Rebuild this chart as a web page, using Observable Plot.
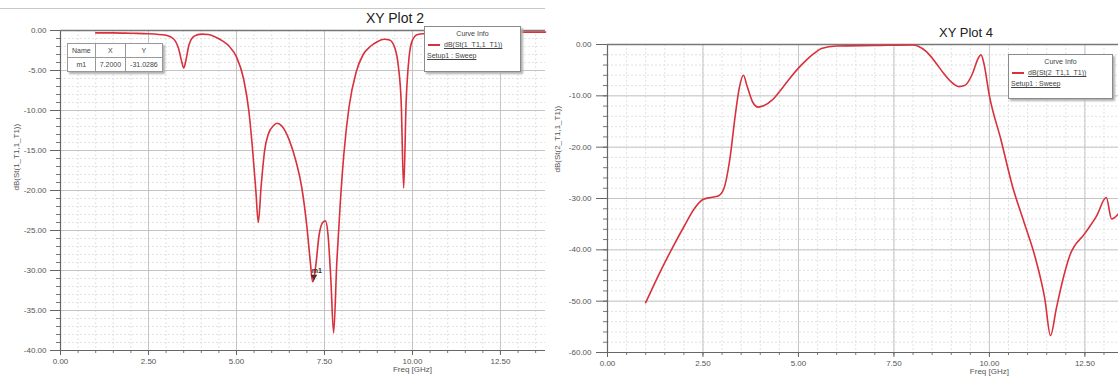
<!DOCTYPE html>
<html>
<head>
<meta charset="utf-8">
<script src="https://cdn.jsdelivr.net/npm/d3@7"></script>
<script src="https://cdn.jsdelivr.net/npm/@observablehq/plot@0.6"></script>
<style>
  html, body { margin: 0; padding: 0; background: #fff; }
  body { width: 1118px; height: 381px; position: relative; overflow: hidden; font-family: "Liberation Sans", Arial, sans-serif; }
  .panel { position: absolute; top: 0; height: 381px; }
  #left { left: 0; width: 545px; }
  #right { left: 553px; width: 565px; }
  #winline { position: absolute; left: 0; top: 8px; width: 545px; height: 0; border-top: 1.5px solid #c8c8c8; }
  .title { position: absolute; color: #222; white-space: nowrap; transform: translateX(-50%); }
  .legend { position: absolute; background: #fff; border: 1px solid #8a8a8a; box-shadow: 2px 2px 2px #b0b0b0; font-size: 7px; color: #444; }
  .legend .hd { text-align: center; margin-top: 3px; }
  .legend .row { display: flex; align-items: center; margin-top: 4px; padding-left: 3px; white-space: nowrap; }
  .legend .sw { width: 12px; height: 0; border-top: 2px solid #d8303c; margin-right: 4px; }
  .legend .u { text-decoration: underline; }
  .legend .setup { padding-left: 2px; margin-top: 4px; text-decoration: underline; white-space: nowrap; }
  #mtable { position: absolute; left: 67px; top: 43px; border-collapse: collapse; background: #fff; font-size: 7px; color: #444; box-shadow: 2px 2px 2px #b0b0b0; }
  #mtable td { border: 1px solid #999; padding: 3px 4px; text-align: center; }
</style>
</head>
<body>
<div id="winline"></div>
<div id="left" class="panel"></div>
<div id="right" class="panel"></div>
<div class="title" style="left:395px; top:10px; font-size:14px;">XY Plot 2</div>
<div class="title" style="left:966px; top:25px; font-size:13px;">XY Plot 4</div>
<script>
// ---------- data ----------
const xTicks = [0, 2.5, 5, 7.5, 10, 12.5];
const s11YTicks = [0, -5, -10, -15, -20, -25, -30, -35, -40];
const s21YTicks = [0, -10, -20, -30, -40, -50, -60];

const s11Freq = [1.0, 1.5, 2.0, 2.5, 3.0, 3.2, 3.35, 3.45, 3.5, 3.55, 3.65, 3.8, 4.0, 4.2, 4.4, 4.6, 4.8, 5.0, 5.2, 5.35, 5.45, 5.55, 5.62, 5.7, 5.8, 5.9, 6.05, 6.15, 6.3, 6.5, 6.7, 6.85, 7.0, 7.1, 7.16, 7.2, 7.25, 7.35, 7.45, 7.53, 7.6, 7.68, 7.76, 7.85, 7.95, 8.05, 8.2, 8.4, 8.6, 8.8, 9.0, 9.2, 9.35, 9.5, 9.6, 9.68, 9.75, 9.82, 9.9, 10.0, 10.15, 10.5, 11.0, 12.0, 13.0, 13.78];
const s11dB   = [-0.3, -0.3, -0.35, -0.4, -0.6, -1.0, -2.2, -4.0, -4.7, -4.0, -1.8, -0.7, -0.45, -0.5, -0.8, -1.3, -2.0, -3.3, -6.0, -10.0, -14.5, -20.0, -24.0, -19.5, -15.0, -13.0, -11.9, -11.6, -12.0, -13.7, -16.5, -19.5, -24.5, -29.0, -31.4, -31.03, -29.5, -25.5, -24.0, -23.8, -25.5, -31.0, -37.8, -29.0, -21.5, -15.5, -9.5, -5.2, -3.0, -2.0, -1.4, -1.1, -1.2, -2.2, -4.5, -9.0, -19.7, -9.0, -3.5, -1.2, -0.5, -0.35, -0.3, -0.25, -0.2, -0.2];

const s21Freq = [1.0, 1.3, 1.7, 2.0, 2.3, 2.5, 2.7, 2.9, 3.05, 3.2, 3.35, 3.45, 3.56, 3.65, 3.8, 3.95, 4.1, 4.3, 4.5, 4.75, 5.0, 5.2, 5.4, 5.6, 6.0, 7.0, 8.0, 8.15, 8.35, 8.6, 8.8, 9.0, 9.2, 9.35, 9.55, 9.7, 9.78, 9.85, 10.0, 10.3, 10.6, 10.9, 11.2, 11.45, 11.6, 11.75, 11.9, 12.1, 12.5, 12.8, 13.06, 13.2, 13.38];
const s21dB   = [-50.3, -45.5, -39.6, -35.5, -31.7, -30.2, -29.8, -29.5, -28.0, -22.5, -13.5, -8.5, -6.0, -8.0, -11.2, -12.2, -11.9, -10.9, -9.2, -6.8, -4.6, -3.1, -1.8, -0.8, -0.3, -0.2, -0.1, -0.4, -1.4, -3.6, -5.6, -7.3, -8.2, -8.0, -5.8, -2.8, -2.0, -3.5, -10.0, -18.5, -27.5, -34.5, -41.5, -49.5, -56.7, -51.5, -46.5, -41.2, -36.8, -33.5, -29.8, -34.0, -33.0];

const markerName = ["m1"];
const markerFreq = [7.2];
const markerdB = [-31.0286];

const s11Label = "dB(St(1_T1,1_T1))";
const s21Label = "dB(St(2_T1,1_T1))";
const xLabel = "Freq [GHz]";
const curveColor = "#d8303c";

// ---------- helpers ----------
const fmt = d => d.toFixed(2);
const noLabel = () => "";

function panel({data, width, marginLeft, marginTop, marginBottom, xDomain, yDomain, yTicks, yMinorStep, yTickSize, yTickPad, yLabel, yLabelDx, yLabelDy, markers}) {
  const xMinor = d3.range(xDomain[0], xDomain[1], 0.5);
  const yMinor = d3.range(yDomain[0], yDomain[1] + 0.001, yMinorStep);
  const marks = [
    Plot.gridX(xMinor, {stroke: "#e2e2e2", strokeOpacity: 1, strokeDasharray: "2,2"}),
    Plot.gridY(yMinor, {stroke: "#e2e2e2", strokeOpacity: 1, strokeDasharray: "2,2"}),
    Plot.gridX(xTicks, {stroke: "#c4c4c4", strokeOpacity: 1}),
    Plot.gridY(yTicks, {stroke: "#c4c4c4", strokeOpacity: 1}),
    Plot.axisX(xMinor, {tickSize: 3, tickFormat: noLabel, stroke: "#777", label: null}),
    Plot.axisX(xTicks, {tickSize: 5, tickPadding: 3, tickFormat: fmt, stroke: "#666", fill: "#555", label: null}),
    Plot.axisY(yMinor, {tickSize: 4, tickFormat: noLabel, stroke: "#777", label: null}),
    Plot.axisY(yTicks, {tickSize: yTickSize, tickPadding: yTickPad, tickFormat: fmt, stroke: "#666", fill: "#555", label: null}),
    Plot.ruleX([xDomain[0]], {stroke: "#666", strokeWidth: 1.2}),
    Plot.ruleY([yDomain[0]], {stroke: "#666", strokeWidth: 1.2}),
    Plot.ruleY([yDomain[1]], {stroke: "#777", strokeWidth: 1.5}),
    Plot.line(data, {x: "f", y: "db", stroke: curveColor, strokeWidth: 1.6, curve: "monotone-x"}),
    Plot.text([xLabel], {x: () => xTicks[4], frameAnchor: "bottom", dy: 21, fill: "#555", fontSize: 8}),
    Plot.text([yLabel], {frameAnchor: "left", rotate: -90, dx: yLabelDx, dy: yLabelDy, fill: "#555", fontSize: 8})
  ];
  if (markers) {
    marks.push(Plot.dot(markers, {x: "f", y: "db", symbol: "triangle", r: 2.5, fill: "#5a2a2a", rotate: 180, dy: -2}));
    marks.push(Plot.text(markers, {x: "f", y: "db", text: "name", dy: -8, dx: 3, fill: "#3a2a2a", fontSize: 7, fontWeight: "bold"}));
  }
  return Plot.plot({
    width, height: 381,
    marginLeft, marginRight: 0, marginTop, marginBottom,
    style: {fontFamily: "'Liberation Sans', Arial, sans-serif", fontSize: "8px", color: "#555", background: "transparent", overflow: "visible"},
    x: {type: "linear", domain: xDomain, axis: null},
    y: {type: "linear", domain: yDomain, axis: null},
    marks
  });
}

const s11 = s11Freq.map((f, i) => ({f, db: s11dB[i]}));
const s21 = s21Freq.map((f, i) => ({f, db: s21dB[i]}));
const mk = markerName.map((name, i) => ({name, f: markerFreq[i], db: markerdB[i]}));

document.getElementById("left").append(panel({
  data: s11, width: 545, marginLeft: 60, marginTop: 30, marginBottom: 31,
  xDomain: [0, 13.78], yDomain: [-40, 0], yTicks: s11YTicks, yMinorStep: 1,
  yTickSize: 10, yTickPad: 4, yLabel: s11Label, yLabelDx: -44, yLabelDy: 0, markers: mk
}));
document.getElementById("right").append(panel({
  data: s21, width: 565, marginLeft: 54, marginTop: 44, marginBottom: 29,
  xDomain: [0, 13.38], yDomain: [-60, 0], yTicks: s21YTicks, yMinorStep: 2,
  yTickSize: 11, yTickPad: 5, yLabel: s21Label, yLabelDx: -50, yLabelDy: -26, markers: null
}));
</script>
<table id="mtable">
  <tr><td>Name</td><td>X</td><td>Y</td></tr>
  <tr><td>m1</td><td>7.2000</td><td>-31.0286</td></tr>
</table>
<div class="legend" style="left:424px; top:26px; width:95px; height:44px;">
  <div class="hd">Curve Info</div>
  <div class="row"><div class="sw"></div><span class="u">dB(St(1_T1,1_T1))</span></div>
  <div class="setup">Setup1 : Sweep</div>
</div>
<div class="legend" style="left:1008px; top:54px; width:103px; height:43px;">
  <div class="hd">Curve Info</div>
  <div class="row"><div class="sw"></div><span class="u">dB(St(2_T1,1_T1))</span></div>
  <div class="setup">Setup1 : Sweep</div>
</div>
</body>
</html>
